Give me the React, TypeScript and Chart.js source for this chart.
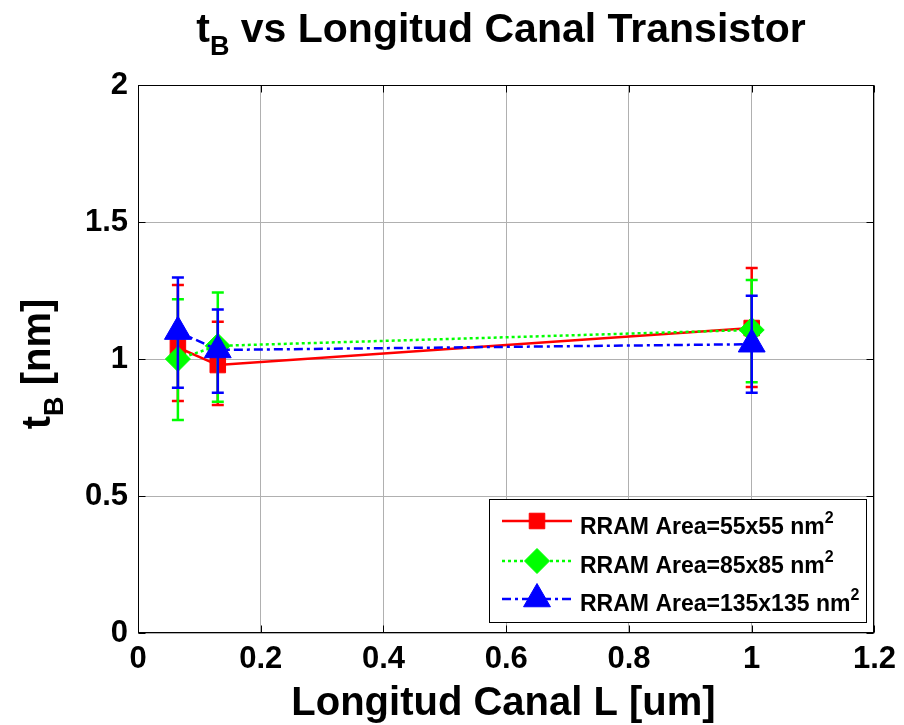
import React, { useEffect, useRef } from 'react';
import { Chart, registerables } from 'chart.js';
import { drawPoint } from 'chart.js/helpers';

Chart.register(...registerables);

const FONT = '"Liberation Sans", Arial, Helvetica, sans-serif';

// Data
const xValues = [0.065, 0.13, 1.0];
const seriesLabels = ['RRAM Area=55x55 nm', 'RRAM Area=85x85 nm', 'RRAM Area=135x135 nm'];
const redMean = [1.042, 0.978, 1.113];
const redLow = [0.847, 0.832, 0.898];
const redHigh = [1.27, 1.136, 1.332];
const greenMean = [1.0, 1.048, 1.106];
const greenLow = [0.777, 0.844, 0.915];
const greenHigh = [1.218, 1.243, 1.288];
const blueMean = [1.1, 1.033, 1.054];
const blueLow = [0.895, 0.877, 0.877];
const blueHigh = [1.297, 1.181, 1.231];
const xTicks = [0, 0.2, 0.4, 0.6, 0.8, 1, 1.2];
const yTicks = [0, 0.5, 1, 1.5, 2];

type Part = { t: string; size: number; dy: number };

function drawParts(ctx: CanvasRenderingContext2D, parts: Part[], x: number, y: number, align: 'left' | 'center') {
  ctx.textAlign = 'left';
  ctx.textBaseline = 'alphabetic';
  let total = 0;
  const widths = parts.map((p) => {
    ctx.font = `bold ${p.size}px ${FONT}`;
    const w = ctx.measureText(p.t).width;
    total += w;
    return w;
  });
  let cx = align === 'center' ? x - total / 2 : x;
  parts.forEach((p, i) => {
    ctx.font = `bold ${p.size}px ${FONT}`;
    ctx.fillText(p.t, cx, y + p.dy);
    cx += widths[i];
  });
}

const errorBarPlugin = {
  id: 'errorBars',
  afterDatasetDraw(chart: any, args: any) {
    const ds = chart.data.datasets[args.index];
    const ctx: CanvasRenderingContext2D = chart.ctx;
    const xs = chart.scales.x;
    const ys = chart.scales.y;
    ctx.save();
    ctx.strokeStyle = ds.borderColor;
    ctx.lineWidth = 2.5;
    ctx.setLineDash([]);
    const cap = 6;
    for (let i = 0; i < xValues.length; i++) {
      const px = xs.getPixelForValue(xValues[i]);
      const pLo = ys.getPixelForValue(ds.errLow[i]);
      const pHi = ys.getPixelForValue(ds.errHigh[i]);
      ctx.beginPath();
      ctx.moveTo(px, pLo);
      ctx.lineTo(px, pHi);
      ctx.moveTo(px - cap, pLo);
      ctx.lineTo(px + cap, pLo);
      ctx.moveTo(px - cap, pHi);
      ctx.lineTo(px + cap, pHi);
      ctx.stroke();
    }
    ctx.restore();
  },
};

const framePlugin = {
  id: 'frame',
  afterDatasetsDraw(chart: any) {
    const ctx: CanvasRenderingContext2D = chart.ctx;
    const a = chart.chartArea;
    const xs = chart.scales.x;
    const ys = chart.scales.y;
    const L = Math.round(a.left) + 0.5;
    const R = Math.round(a.right) - 0.5;
    const T = Math.round(a.top) + 0.5;
    const B = Math.round(a.bottom) - 0.5;
    ctx.save();
    ctx.strokeStyle = '#000';
    ctx.lineWidth = 1;
    ctx.setLineDash([]);
    ctx.strokeRect(L, T, R - L, B - T);
    const tl = 7;
    ctx.beginPath();
    xTicks.forEach((v) => {
      const px = Math.round(xs.getPixelForValue(v)) + 0.5;
      ctx.moveTo(px, B);
      ctx.lineTo(px, B - tl);
      ctx.moveTo(px, T);
      ctx.lineTo(px, T + tl);
    });
    yTicks.forEach((v) => {
      const py = Math.round(ys.getPixelForValue(v)) + 0.5;
      ctx.moveTo(L, py);
      ctx.lineTo(L + tl, py);
      ctx.moveTo(R, py);
      ctx.lineTo(R - tl, py);
    });
    ctx.stroke();
    ctx.restore();
  },
};

const textPlugin = {
  id: 'texts',
  afterDraw(chart: any) {
    const ctx: CanvasRenderingContext2D = chart.ctx;
    ctx.save();
    ctx.fillStyle = '#000';
    // Title
    drawParts(
      ctx,
      [
        { t: 't', size: 41, dy: 0 },
        { t: 'B', size: 27, dy: 13 },
        { t: ' vs Longitud Canal Transistor', size: 41, dy: 0 },
      ],
      501,
      42,
      'center'
    );
    // X title
    drawParts(ctx, [{ t: 'Longitud Canal L [um]', size: 40, dy: 0 }], 503.5, 715, 'center');
    // Y title
    ctx.save();
    ctx.translate(50, 364);
    ctx.rotate(-Math.PI / 2);
    drawParts(
      ctx,
      [
        { t: 't', size: 40, dy: 0 },
        { t: 'B', size: 27, dy: 13 },
        { t: ' [nm]', size: 40, dy: 0 },
      ],
      0,
      0,
      'center'
    );
    ctx.restore();

    // Legend
    const bx = 489.5, by = 499.5, bw = 377, bh = 123;
    ctx.fillStyle = '#fff';
    ctx.fillRect(bx, by, bw, bh);
    ctx.strokeStyle = '#000';
    ctx.lineWidth = 1;
    ctx.setLineDash([]);
    ctx.strokeRect(bx, by, bw, bh);
    const rowY = [521, 561, 599];
    const baseY = [534, 573, 611];
    chart.data.datasets.forEach((ds: any, i: number) => {
      ctx.save();
      ctx.strokeStyle = ds.borderColor;
      ctx.lineWidth = ds.borderWidth;
      ctx.setLineDash(ds.borderDash || []);
      ctx.beginPath();
      ctx.moveTo(502, rowY[i]);
      ctx.lineTo(572, rowY[i]);
      ctx.stroke();
      ctx.setLineDash([]);
      ctx.fillStyle = ds.pointBackgroundColor;
      ctx.strokeStyle = ds.pointBorderColor;
      ctx.lineWidth = ds.pointBorderWidth;
      drawPoint(ctx, { pointStyle: ds.pointStyle, rotation: 0, radius: ds.pointRadius, borderWidth: ds.pointBorderWidth } as any, 537, rowY[i]);
      ctx.restore();
      ctx.fillStyle = '#000';
      drawParts(
        ctx,
        [
          { t: seriesLabels[i], size: 23, dy: 0 },
          { t: '2', size: 16, dy: -11 },
        ],
        580,
        baseY[i],
        'left'
      );
    });
    ctx.restore();
  },
};

function mk(label: string, mean: number[], low: number[], high: number[], color: string, style: string, radius: number, dash: number[], order: number) {
  return {
    label,
    data: xValues.map((x, i) => ({ x, y: mean[i] })),
    errLow: low,
    errHigh: high,
    borderColor: color,
    backgroundColor: color,
    pointBackgroundColor: color,
    pointBorderColor: color,
    pointBorderWidth: 1,
    pointStyle: style,
    pointRadius: radius,
    pointHoverRadius: radius,
    borderWidth: 2.5,
    borderDash: dash,
    tension: 0,
    fill: false,
    order,
  };
}

export default function App() {
  const ref = useRef<HTMLCanvasElement>(null);
  useEffect(() => {
    const chart = new Chart(ref.current as HTMLCanvasElement, {
      type: 'line',
      data: {
        datasets: [
          mk(seriesLabels[0], redMean, redLow, redHigh, '#ff0000', 'rect', 11, [], 3),
          mk(seriesLabels[1], greenMean, greenLow, greenHigh, '#00ff00', 'rectRot', 12.5, [3, 3], 2),
          mk(seriesLabels[2], blueMean, blueLow, blueHigh, '#0000ff', 'triangle', 15.5, [9, 4, 3, 4], 1),
        ] as any,
      },
      options: {
        responsive: false,
        animation: false,
        events: [],
        layout: { padding: { left: 0, top: 85, right: 24, bottom: 0 } },
        plugins: {
          legend: { display: false },
          title: { display: false },
          tooltip: { enabled: false },
        },
        scales: {
          x: {
            type: 'linear',
            min: 0,
            max: 1.2,
            afterBuildTicks: (axis: any) => {
              axis.ticks = xTicks.map((v) => ({ value: v }));
            },
            afterFit: (scale: any) => {
              scale.height = 92;
            },
            ticks: {
              padding: 8,
              color: '#000',
              font: { family: FONT, size: 31, weight: 'bold' },
              maxRotation: 0,
              autoSkip: false,
              callback: (v: any) => String(v),
            },
            grid: { color: '#b0b0b0', lineWidth: 1, drawTicks: false },
            border: { display: false },
          },
          y: {
            type: 'linear',
            min: 0,
            max: 2,
            afterBuildTicks: (axis: any) => {
              axis.ticks = yTicks.map((v) => ({ value: v }));
            },
            afterFit: (scale: any) => {
              scale.width = 138;
            },
            ticks: {
              padding: 10,
              color: '#000',
              font: { family: FONT, size: 31, weight: 'bold' },
              autoSkip: false,
              callback: (v: any) => String(v),
            },
            grid: { color: '#b0b0b0', lineWidth: 1, drawTicks: false },
            border: { display: false },
          },
        },
      } as any,
      plugins: [errorBarPlugin, framePlugin, textPlugin],
    });
    return () => chart.destroy();
  }, []);
  return (
    <div style={{ position: 'absolute', left: 0, top: 0, width: 904, height: 725, background: '#fff', overflow: 'hidden' }}>
      <canvas ref={ref} width={904} height={725} style={{ display: 'block', width: 904, height: 725 }} />
    </div>
  );
}
